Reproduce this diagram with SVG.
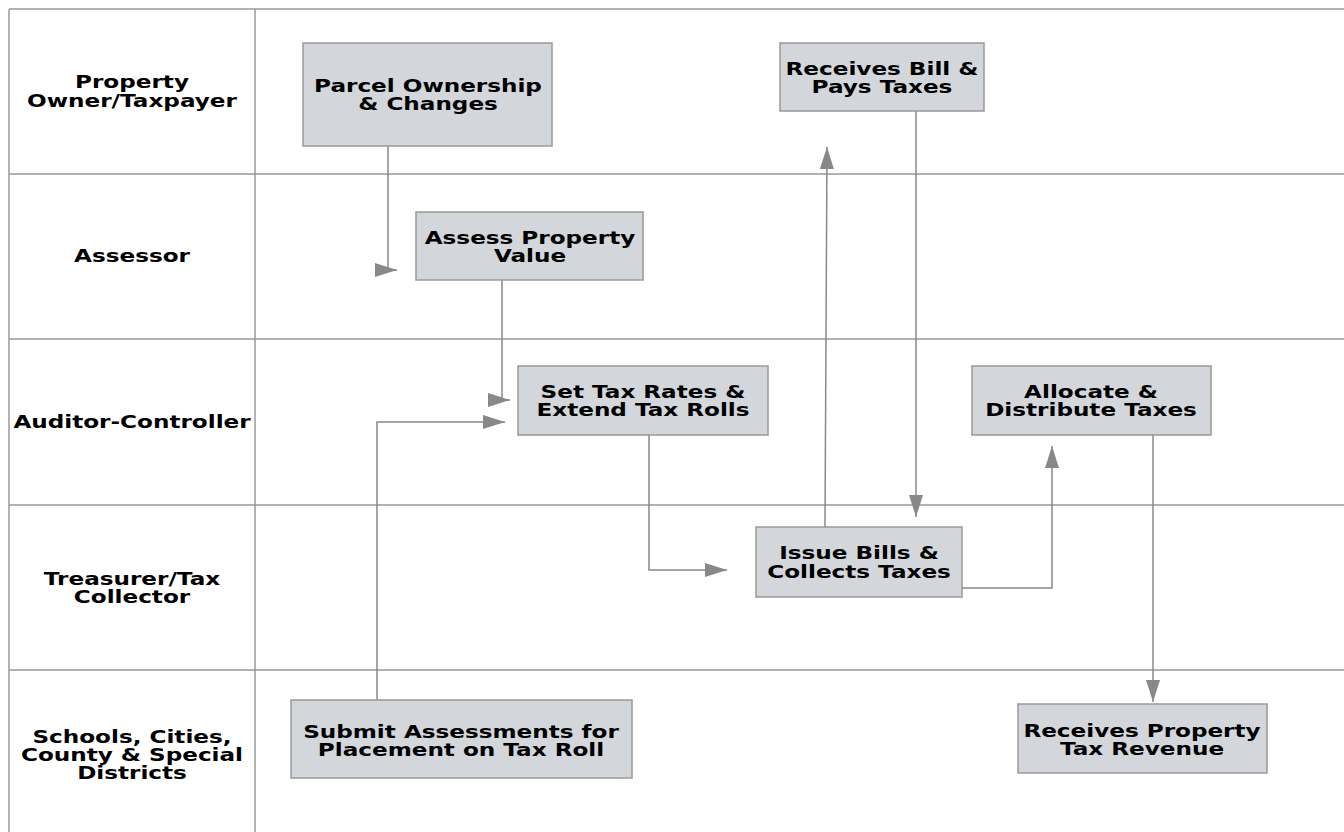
<svg xmlns="http://www.w3.org/2000/svg" width="1344" height="832" viewBox="0 0 1344 832">
<style>
.lane{stroke:#999;stroke-width:1.5;fill:none}
.box{fill:#d3d7db;stroke:#999;stroke-width:1.5}
.t{font-family:"DejaVu Sans",Verdana,sans-serif;font-weight:bold;font-size:17px;fill:#000;text-anchor:middle}
.c{stroke:#888;stroke-width:1.5;fill:none;marker-end:url(#ah)}
</style>
<defs>
<marker id="ah" markerUnits="userSpaceOnUse" markerWidth="24" markerHeight="16" refX="22" refY="7" orient="auto">
<path d="M0,0 L22,7 L0,14 Z" fill="#888"/>
</marker>
</defs>
<rect width="1344" height="832" fill="#fff"/>
<g id="lanes">
<path class="lane" d="M9,9 H1344 M9,174 H1344 M9,339 H1344 M9,505 H1344 M9,670 H1344 M9,9 V832 M255,9 V832"/>
</g>
<g id="lane-labels">
<text class="t" transform="translate(132,88) scale(1.36,1)">Property</text>
<text class="t" transform="translate(132,107) scale(1.36,1)">Owner/Taxpayer</text>
<text class="t" transform="translate(132,262) scale(1.36,1)">Assessor</text>
<text class="t" transform="translate(132,428) scale(1.36,1)">Auditor-Controller</text>
<text class="t" transform="translate(132,585) scale(1.36,1)">Treasurer/Tax</text>
<text class="t" transform="translate(132,603) scale(1.36,1)">Collector</text>
<text class="t" transform="translate(132,743) scale(1.36,1)">Schools, Cities,</text>
<text class="t" transform="translate(132,761) scale(1.36,1)">County &amp; Special</text>
<text class="t" transform="translate(132,779) scale(1.36,1)">Districts</text>
</g>
<g id="connectors">
<path class="c" d="M388,146 V270 H397"/>
<path class="c" d="M502,280 V400 H510"/>
<path class="c" d="M377,700 V422 H505"/>
<path class="c" d="M649,435 V570 H727"/>
<path class="c" d="M825,527 L827,147"/>
<path class="c" d="M916,111 V517"/>
<path class="c" d="M962,588 H1052 V446"/>
<path class="c" d="M1153,435 V702"/>
</g>
<g id="parcel">
<rect class="box" x="303" y="43" width="249" height="103"/>
<text class="t" transform="translate(428,92) scale(1.36,1)">Parcel Ownership</text>
<text class="t" transform="translate(428,110) scale(1.36,1)">&amp; Changes</text>
</g>
<g id="receives-bill">
<rect class="box" x="780" y="43" width="204" height="68"/>
<text class="t" transform="translate(882,75) scale(1.36,1)">Receives Bill &amp;</text>
<text class="t" transform="translate(882,93) scale(1.36,1)">Pays Taxes</text>
</g>
<g id="assess">
<rect class="box" x="416" y="212" width="227" height="68"/>
<text class="t" transform="translate(530,244) scale(1.36,1)">Assess Property</text>
<text class="t" transform="translate(530,262) scale(1.36,1)">Value</text>
</g>
<g id="set-tax">
<rect class="box" x="518" y="366" width="250" height="69"/>
<text class="t" transform="translate(643,398) scale(1.36,1)">Set Tax Rates &amp;</text>
<text class="t" transform="translate(643,416) scale(1.36,1)">Extend Tax Rolls</text>
</g>
<g id="allocate">
<rect class="box" x="972" y="366" width="239" height="69"/>
<text class="t" transform="translate(1091,398) scale(1.36,1)">Allocate &amp;</text>
<text class="t" transform="translate(1091,416) scale(1.36,1)">Distribute Taxes</text>
</g>
<g id="issue-bills">
<rect class="box" x="756" y="527" width="206" height="70"/>
<text class="t" transform="translate(859,559) scale(1.36,1)">Issue Bills &amp;</text>
<text class="t" transform="translate(859,578) scale(1.36,1)">Collects Taxes</text>
</g>
<g id="submit">
<rect class="box" x="291" y="700" width="341" height="78"/>
<text class="t" transform="translate(461,738) scale(1.36,1)">Submit Assessments for</text>
<text class="t" transform="translate(461,756) scale(1.36,1)">Placement on Tax Roll</text>
</g>
<g id="receives-revenue">
<rect class="box" x="1018" y="704" width="249" height="69"/>
<text class="t" transform="translate(1142,737) scale(1.36,1)">Receives Property</text>
<text class="t" transform="translate(1142,755) scale(1.36,1)">Tax Revenue</text>
</g>
</svg>
